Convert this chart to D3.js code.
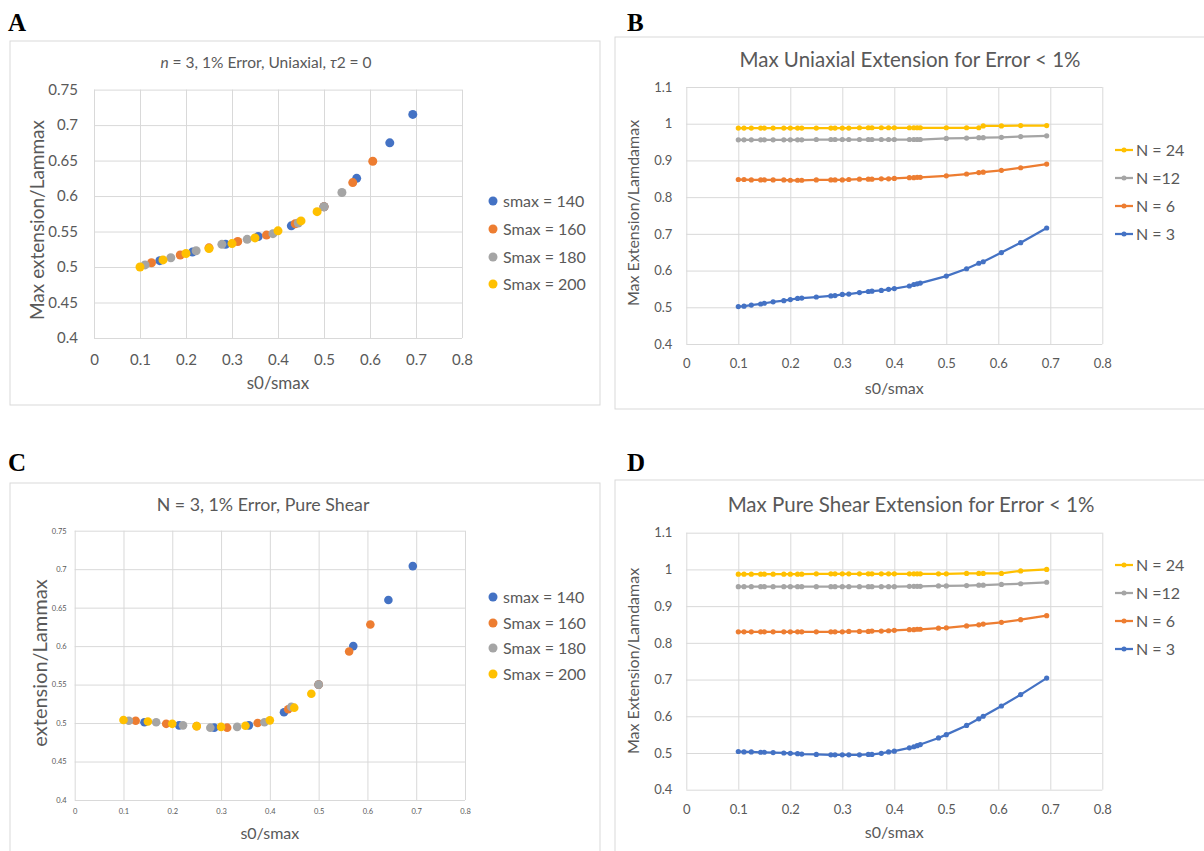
<!DOCTYPE html>
<html>
<head>
<meta charset="utf-8">
<script src="https://cdn.jsdelivr.net/npm/d3@7"></script>
<style>
body { margin: 0; background: #fff; }
text { font-family: Lato, "Open Sans", sans-serif; fill: #595959; }
</style>
</head>
<body>
<div id="chart"></div>
<script>
var W = 1204, H = 851
var colors = ["#4472C4", "#ED7D31", "#A5A5A5", "#FFC000"]

// tick values
var xTicks = [0, 0.1, 0.2, 0.3, 0.4, 0.5, 0.6, 0.7, 0.8]
var yTicksAC = [0.4, 0.45, 0.5, 0.55, 0.6, 0.65, 0.7, 0.75]
var yTicksBD = [0.4, 0.5, 0.6, 0.7, 0.8, 0.9, 1, 1.1]

// panel A - uniaxial, n = 3, grouped by smax
var smaxNames = ["smax = 140", "Smax = 160", "Smax = 180", "Smax = 200"]
var uni140x = [0.143, 0.214, 0.286, 0.357, 0.429, 0.5, 0.571, 0.643, 0.693]
var uni140y = [0.509, 0.521, 0.532, 0.543, 0.558, 0.585, 0.625, 0.675, 0.715]
var uni160x = [0.125, 0.1875, 0.25, 0.3125, 0.375, 0.4375, 0.5, 0.5625, 0.606]
var uni160y = [0.506, 0.517, 0.527, 0.536, 0.545, 0.561, 0.585, 0.619, 0.649]
var uni180x = [0.111, 0.167, 0.222, 0.278, 0.333, 0.389, 0.444, 0.5, 0.539]
var uni180y = [0.503, 0.513, 0.523, 0.532, 0.539, 0.547, 0.562, 0.585, 0.605]
var uni200x = [0.1, 0.15, 0.2, 0.25, 0.3, 0.35, 0.4, 0.45, 0.485]
var uni200y = [0.500, 0.510, 0.519, 0.526, 0.533, 0.541, 0.551, 0.565, 0.578]

// panel C - pure shear, N = 3, grouped by smax
var sh140x = [0.143, 0.214, 0.286, 0.357, 0.429, 0.5, 0.571, 0.643, 0.693]
var sh140y = [0.501, 0.497, 0.494, 0.497, 0.514, 0.550, 0.600, 0.660, 0.704]
var sh160x = [0.125, 0.1875, 0.25, 0.3125, 0.375, 0.4375, 0.5, 0.5625, 0.606]
var sh160y = [0.503, 0.499, 0.496, 0.494, 0.500, 0.518, 0.550, 0.593, 0.628]
var sh180x = [0.111, 0.167, 0.222, 0.278, 0.333, 0.389, 0.444, 0.5]
var sh180y = [0.503, 0.501, 0.497, 0.494, 0.495, 0.501, 0.521, 0.550]
var sh200x = [0.1, 0.15, 0.2, 0.25, 0.3, 0.35, 0.4, 0.45, 0.485]
var sh200y = [0.504, 0.502, 0.499, 0.496, 0.495, 0.4965, 0.5035, 0.520, 0.538]

// panel B - max uniaxial extension by N
var nNames = ["N = 3", "N = 6", "N =12", "N = 24"]
var uniNx = [0.1, 0.111, 0.125, 0.143, 0.15, 0.167, 0.1875, 0.2, 0.214, 0.222, 0.25, 0.278, 0.286, 0.3, 0.3125, 0.333,
  0.35, 0.357, 0.375, 0.389, 0.4, 0.429, 0.4375, 0.444, 0.45, 0.5, 0.539, 0.5625, 0.571, 0.606, 0.643, 0.693]
var uniN3 = [0.502, 0.503, 0.506, 0.509, 0.511, 0.515, 0.518, 0.521, 0.524, 0.525, 0.528, 0.531, 0.532, 0.535, 0.536, 0.540,
  0.543, 0.544, 0.546, 0.549, 0.551, 0.558, 0.562, 0.564, 0.566, 0.585, 0.605, 0.620, 0.624, 0.649, 0.676, 0.716]
var uniN6 = [0.848, 0.848, 0.847, 0.847, 0.847, 0.847, 0.847, 0.846, 0.846, 0.846, 0.847, 0.847, 0.847, 0.847, 0.848, 0.849,
  0.849, 0.849, 0.850, 0.850, 0.851, 0.853, 0.853, 0.854, 0.854, 0.858, 0.863, 0.867, 0.868, 0.873, 0.880, 0.890]
var uniN12 = [0.956, 0.956, 0.956, 0.956, 0.956, 0.956, 0.956, 0.956, 0.956, 0.956, 0.957, 0.957, 0.957, 0.957, 0.957, 0.957,
  0.957, 0.957, 0.957, 0.957, 0.957, 0.957, 0.957, 0.957, 0.957, 0.960, 0.961, 0.962, 0.962, 0.963, 0.965, 0.967]
var uniN24 = [0.988, 0.988, 0.988, 0.988, 0.988, 0.988, 0.988, 0.988, 0.988, 0.988, 0.988, 0.988, 0.988, 0.988, 0.988, 0.989,
  0.989, 0.989, 0.989, 0.989, 0.989, 0.989, 0.989, 0.989, 0.989, 0.989, 0.989, 0.989, 0.994, 0.994, 0.995, 0.995]

// panel D - max pure shear extension by N
var shNx = [0.1, 0.111, 0.125, 0.143, 0.15, 0.167, 0.1875, 0.2, 0.214, 0.222, 0.25, 0.278, 0.286, 0.3, 0.3125, 0.333,
  0.35, 0.357, 0.375, 0.389, 0.4, 0.429, 0.4375, 0.444, 0.45, 0.485, 0.5, 0.539, 0.5625, 0.571, 0.606, 0.643, 0.693]
var shN3 = [0.504, 0.503, 0.503, 0.502, 0.502, 0.501, 0.500, 0.499, 0.498, 0.497, 0.496, 0.495, 0.495, 0.495, 0.495, 0.495,
  0.496, 0.496, 0.499, 0.503, 0.505, 0.514, 0.517, 0.520, 0.523, 0.541, 0.550, 0.575, 0.593, 0.600, 0.628, 0.659, 0.704]
var shN6 = [0.830, 0.830, 0.830, 0.830, 0.830, 0.830, 0.830, 0.830, 0.830, 0.830, 0.830, 0.830, 0.830, 0.830, 0.831, 0.831,
  0.831, 0.832, 0.832, 0.833, 0.834, 0.836, 0.836, 0.837, 0.837, 0.840, 0.841, 0.846, 0.849, 0.851, 0.856, 0.863, 0.874]
var shN12 = [0.953, 0.953, 0.953, 0.953, 0.953, 0.953, 0.953, 0.953, 0.953, 0.953, 0.953, 0.953, 0.953, 0.953, 0.953, 0.953,
  0.953, 0.953, 0.953, 0.953, 0.953, 0.954, 0.954, 0.954, 0.954, 0.955, 0.955, 0.956, 0.957, 0.957, 0.959, 0.961, 0.965]
var shN24 = [0.987, 0.987, 0.987, 0.987, 0.987, 0.987, 0.987, 0.987, 0.987, 0.987, 0.988, 0.988, 0.988, 0.988, 0.988, 0.988,
  0.988, 0.988, 0.988, 0.988, 0.988, 0.988, 0.988, 0.988, 0.988, 0.988, 0.988, 0.989, 0.989, 0.989, 0.989, 0.996, 1.000]

var svg = d3.select("#chart").append("svg")
  .attr("width", W)
  .attr("height", H)
svg.append("rect").attr("width", W).attr("height", H).attr("fill", "#fff")

var fmt = d3.format("~g")

var drawPanel = function(p) {
  var g = svg.append("g")
  g.append("rect")
    .attr("x", p.frame[0]).attr("y", p.frame[1])
    .attr("width", p.frame[2]).attr("height", p.frame[3])
    .attr("fill", "#fff").attr("stroke", "#d9d9d9").attr("stroke-width", 1)
  g.append("text")
    .attr("x", p.letter[0]).attr("y", p.letter[1])
    .style("font-family", "'Liberation Serif', serif")
    .style("font-weight", "bold").style("font-size", "25px").style("fill", "#000")
    .text(p.letterText)

  var x = d3.scaleLinear().domain([0, 0.8]).range([p.left, p.left + p.w])
  var y = d3.scaleLinear().domain(p.yDomain).range([p.top + p.h, p.top])

  var gx = g.append("g")
    .attr("transform", "translate(0," + (p.top + p.h) + ")")
    .call(d3.axisBottom(x).tickValues(xTicks).tickSize(-p.h).tickPadding(p.xPad).tickFormat(fmt))
  var gy = g.append("g")
    .attr("transform", "translate(" + p.left + ",0)")
    .call(d3.axisLeft(y).tickValues(p.yTicks).tickSize(-p.w).tickPadding(p.yPad).tickFormat(fmt))
  ;[gx, gy].forEach(function(a) {
    a.select(".domain").remove()
    a.attr("font-family", null).attr("font-size", null)
    a.selectAll(".tick line").attr("stroke", "#d9d9d9").attr("stroke-width", 1)
    a.selectAll(".tick text").style("font-size", p.tickFont + "px").attr("fill", "#595959")
  })

  // titles
  var t = g.append("text")
    .attr("x", p.titlePos[0]).attr("y", p.titlePos[1])
    .attr("text-anchor", "middle").style("font-size", p.titleFont + "px")
  p.title.forEach(function(part) {
    t.append("tspan").style("font-style", part.italic ? "italic" : "normal").text(part.s)
  })
  g.append("text")
    .attr("transform", "translate(" + p.yTitlePos[0] + "," + p.yTitlePos[1] + ") rotate(-90)")
    .attr("text-anchor", "middle").attr("dy", "0.35em")
    .style("font-size", p.yTitleFont + "px")
    .text(p.yTitle)
  g.append("text")
    .attr("x", p.left + p.w / 2).attr("y", p.xTitleY)
    .attr("text-anchor", "middle").attr("dy", "0.35em")
    .style("font-size", p.xTitleFont + "px")
    .text("s0/smax")

  // marks
  p.series.forEach(function(s, i) {
    var pts = s.x.map(function(v, k) { return [v, s.y[k]] })
    if (p.lines) {
      g.append("path")
        .datum(pts)
        .attr("fill", "none")
        .attr("stroke", s.color)
        .attr("stroke-width", 2.25)
        .attr("d", d3.line().x(function(d) { return x(d[0]) }).y(function(d) { return y(d[1]) }))
    }
    g.selectAll(".pt" + i)
      .data(pts)
      .enter().append("circle")
      .attr("cx", function(d) { return x(d[0]) })
      .attr("cy", function(d) { return y(d[1]) })
      .attr("r", p.r)
      .attr("fill", s.color)
  })

  // legend
  p.legend.forEach(function(item) {
    var lg = g.append("g").attr("transform", "translate(" + p.legendX + "," + item.y + ")")
    if (p.lines) {
      lg.append("line").attr("x1", -9).attr("x2", 9)
        .attr("stroke", item.color).attr("stroke-width", 2.25)
      lg.append("circle").attr("r", 2.5).attr("fill", item.color)
    } else {
      lg.append("circle").attr("r", 4.5).attr("fill", item.color)
    }
    lg.append("text")
      .attr("x", p.lines ? 12 : 10).attr("dy", "0.35em")
      .style("font-size", p.legendFont + "px")
      .text(item.name)
  })
}

// A
drawPanel({
  frame: [10, 41, 590, 364], letter: [8, 31], letterText: "A",
  left: 94, top: 89.6, w: 368, h: 248.4,
  yDomain: [0.4, 0.75], yTicks: yTicksAC, tickFont: 15, xPad: 16, yPad: 16,
  title: [{s: "n", italic: true}, {s: " = 3, 1% Error, Uniaxial, "}, {s: "\u03C4", italic: true}, {s: "2 = 0"}],
  titlePos: [266, 68], titleFont: 15.5,
  yTitle: "Max extension/Lammax", yTitlePos: [37, 220], yTitleFont: 19,
  xTitleY: 383, xTitleFont: 17,
  lines: false, r: 4.5,
  series: [
    {x: uni140x, y: uni140y, color: colors[0]},
    {x: uni160x, y: uni160y, color: colors[1]},
    {x: uni180x, y: uni180y, color: colors[2]},
    {x: uni200x, y: uni200y, color: colors[3]}
  ],
  legendX: 493, legendFont: 16,
  legend: smaxNames.map(function(n, i) { return {name: n, color: colors[i], y: [201, 229, 257, 284][i]} })
})

// B
drawPanel({
  frame: [615, 37, 600, 372], letter: [627, 31], letterText: "B",
  left: 686.3, top: 87, w: 416, h: 257,
  yDomain: [0.4, 1.1], yTicks: yTicksBD, tickFont: 13, xPad: 15, yPad: 14,
  title: [{s: "Max Uniaxial Extension for Error < 1%"}],
  titlePos: [910, 67], titleFont: 20.5,
  yTitle: "Max Extension/Lamdamax", yTitlePos: [633, 213], yTitleFont: 16,
  xTitleY: 388, xTitleFont: 16,
  lines: true, r: 2.6,
  series: [
    {x: uniNx, y: uniN3, color: colors[0]},
    {x: uniNx, y: uniN6, color: colors[1]},
    {x: uniNx, y: uniN12, color: colors[2]},
    {x: uniNx, y: uniN24, color: colors[3]}
  ],
  legendX: 1124, legendFont: 16,
  legend: [3, 2, 1, 0].map(function(i, k) { return {name: nNames[i], color: colors[i], y: [150, 178, 206, 234][k]} })
})

// C
drawPanel({
  frame: [10, 483, 590, 380], letter: [8, 471], letterText: "C",
  left: 74.7, top: 530.7, w: 390.3, h: 269.3,
  yDomain: [0.4, 0.75], yTicks: yTicksAC, tickFont: 7.5, xPad: 9, yPad: 8,
  title: [{s: "N = 3, 1% Error, Pure Shear"}],
  titlePos: [263, 511], titleFont: 17.8,
  yTitle: "extension/Lammax", yTitlePos: [40, 663], yTitleFont: 20,
  xTitleY: 833, xTitleFont: 16,
  lines: false, r: 4.3,
  series: [
    {x: sh140x, y: sh140y, color: colors[0]},
    {x: sh160x, y: sh160y, color: colors[1]},
    {x: sh180x, y: sh180y, color: colors[2]},
    {x: sh200x, y: sh200y, color: colors[3]}
  ],
  legendX: 493, legendFont: 16,
  legend: smaxNames.map(function(n, i) { return {name: n, color: colors[i], y: [597, 623, 648, 674][i]} })
})

// D
drawPanel({
  frame: [615, 480, 600, 380], letter: [627, 471], letterText: "D",
  left: 686.3, top: 532.7, w: 416, h: 257,
  yDomain: [0.4, 1.1], yTicks: yTicksBD, tickFont: 13, xPad: 15, yPad: 14,
  title: [{s: "Max Pure Shear Extension for Error < 1%"}],
  titlePos: [911, 512], titleFont: 20.5,
  yTitle: "Max Extension/Lamdamax", yTitlePos: [633, 661], yTitleFont: 16,
  xTitleY: 832, xTitleFont: 16,
  lines: true, r: 2.6,
  series: [
    {x: shNx, y: shN3, color: colors[0]},
    {x: shNx, y: shN6, color: colors[1]},
    {x: shNx, y: shN12, color: colors[2]},
    {x: shNx, y: shN24, color: colors[3]}
  ],
  legendX: 1124, legendFont: 16,
  legend: [3, 2, 1, 0].map(function(i, k) { return {name: nNames[i], color: colors[i], y: [565, 593, 621, 649][k]} })
})
</script>
</body>
</html>
